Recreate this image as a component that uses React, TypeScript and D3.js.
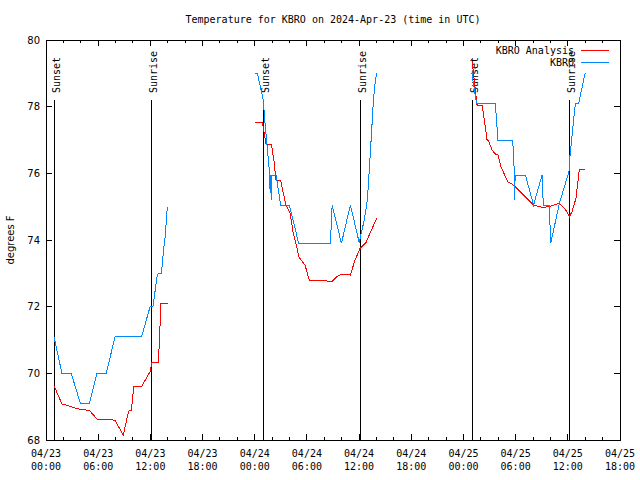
import React from "react";
import * as d3 from "d3";

const TITLE = "Temperature for KBRO on 2024-Apr-23 (time in UTC)";
const Y_LABEL = "degrees F";
const SERIES_NAMES = ["KBRO Analysis", "KBRO"];
const SERIES_COLORS = ["#ff0000", "#0088ff"];

const X_START = "2024-04-23 00:00";
const X_END = "2024-04-25 18:00";
const Y_DOMAIN = [68, 80];
const Y_TICKS = [68, 70, 72, 74, 76, 78, 80];

const SUN_TIMES = [
  "2024-04-23 00:57", "2024-04-23 12:06",
  "2024-04-24 00:58", "2024-04-24 12:05",
  "2024-04-25 00:58", "2024-04-25 12:05",
];
const SUN_LABELS = ["Sunset", "Sunrise", "Sunset", "Sunrise", "Sunset", "Sunrise"];

// Observations (KBRO)
const OBS_TIMES = [
  "2024-04-23 00:55", "2024-04-23 01:50", "2024-04-23 02:54", "2024-04-23 03:57",
  "2024-04-23 04:59", "2024-04-23 05:52", "2024-04-23 06:56", "2024-04-23 07:56",
  "2024-04-23 11:00", "2024-04-23 11:58", "2024-04-23 12:18", "2024-04-23 12:46",
  "2024-04-23 12:54", "2024-04-23 13:16", "2024-04-23 13:36", "2024-04-23 13:42",
  "2024-04-23 13:57",
  "2024-04-24 00:04", "2024-04-24 00:18", "2024-04-24 00:59", "2024-04-24 01:11",
  "2024-04-24 01:24", "2024-04-24 01:34", "2024-04-24 01:44", "2024-04-24 01:46",
  "2024-04-24 01:51", "2024-04-24 01:53", "2024-04-24 01:54", "2024-04-24 02:27",
  "2024-04-24 02:59", "2024-04-24 03:59", "2024-04-24 05:03", "2024-04-24 08:42",
  "2024-04-24 08:54", "2024-04-24 09:58", "2024-04-24 11:00", "2024-04-24 12:02",
  "2024-04-24 12:09", "2024-04-24 12:36", "2024-04-24 12:57", "2024-04-24 13:12",
  "2024-04-24 13:27", "2024-04-24 13:39", "2024-04-24 13:50", "2024-04-24 14:01",
  "2024-04-25 00:58", "2024-04-25 01:30", "2024-04-25 03:40", "2024-04-25 03:58",
  "2024-04-25 05:40", "2024-04-25 05:52", "2024-04-25 05:55", "2024-04-25 05:56",
  "2024-04-25 07:07", "2024-04-25 08:04", "2024-04-25 09:02", "2024-04-25 09:11",
  "2024-04-25 09:52", "2024-04-25 10:02", "2024-04-25 11:02", "2024-04-25 12:11",
  "2024-04-25 12:12", "2024-04-25 12:52", "2024-04-25 13:15", "2024-04-25 13:59",
];
const OBS_TEMPS = [
  71.1, 70.0, 70.0, 69.1,
  69.1, 70.0, 70.0, 71.1,
  71.1, 72.0, 72.0, 72.9,
  73.0, 73.0, 73.9, 74.1,
  75.0,
  79.0, 79.0, 78.2, 77.5,
  76.9, 76.4, 75.95, 75.4,
  75.95, 75.2, 75.95, 75.95,
  75.05, 75.05, 73.9, 73.9,
  75.05, 73.9, 75.05, 73.9,
  74.1, 74.6, 75.2, 76.2,
  77.3, 78.2, 78.7, 79.0,
  79.0, 78.1, 78.1, 77.0,
  77.0, 75.95, 75.2, 75.95,
  75.95, 75.05, 75.95, 75.05,
  75.05, 73.9, 75.1, 76.1,
  76.4, 78.1, 78.1, 79.0,
];

// Analysis (KBRO Analysis)
const ANA_TIMES = [
  "2024-04-23 00:55", "2024-04-23 01:50", "2024-04-23 02:41", "2024-04-23 03:27",
  "2024-04-23 03:57", "2024-04-23 04:59", "2024-04-23 05:52", "2024-04-23 06:56",
  "2024-04-23 07:56", "2024-04-23 08:53", "2024-04-23 09:30", "2024-04-23 09:49",
  "2024-04-23 10:02", "2024-04-23 10:05", "2024-04-23 11:00", "2024-04-23 11:58",
  "2024-04-23 12:11", "2024-04-23 12:53", "2024-04-23 13:00", "2024-04-23 13:09",
  "2024-04-23 13:13", "2024-04-23 13:59",
  "2024-04-24 00:04", "2024-04-24 00:54", "2024-04-24 01:04", "2024-04-24 01:18",
  "2024-04-24 01:55", "2024-04-24 02:12", "2024-04-24 02:27", "2024-04-24 02:59",
  "2024-04-24 03:12", "2024-04-24 03:36", "2024-04-24 04:04", "2024-04-24 04:26",
  "2024-04-24 04:50", "2024-04-24 05:03", "2024-04-24 05:47", "2024-04-24 06:17",
  "2024-04-24 08:21", "2024-04-24 08:53", "2024-04-24 09:25", "2024-04-24 10:02",
  "2024-04-24 11:00", "2024-04-24 11:32", "2024-04-24 12:06", "2024-04-24 12:48",
  "2024-04-24 13:15", "2024-04-24 14:01",
  "2024-04-25 00:58", "2024-04-25 01:34", "2024-04-25 02:08", "2024-04-25 02:26",
  "2024-04-25 02:42", "2024-04-25 02:55", "2024-04-25 03:17", "2024-04-25 03:40",
  "2024-04-25 03:58", "2024-04-25 04:19", "2024-04-25 04:44", "2024-04-25 05:05",
  "2024-04-25 05:35", "2024-04-25 05:58", "2024-04-25 07:07", "2024-04-25 08:04",
  "2024-04-25 09:02", "2024-04-25 09:52", "2024-04-25 11:02", "2024-04-25 11:43",
  "2024-04-25 12:11", "2024-04-25 12:29", "2024-04-25 12:56", "2024-04-25 13:15",
  "2024-04-25 13:19", "2024-04-25 14:00",
];
const ANA_TEMPS = [
  69.63, 69.08, 69.02, 68.95,
  68.92, 68.89, 68.63, 68.63,
  68.59, 68.15, 68.87, 68.89,
  69.45, 69.61, 69.61, 70.05,
  70.32, 70.33, 70.76, 71.65,
  72.1, 72.1,
  77.52, 77.52, 77.25, 76.88,
  76.88, 76.4, 75.8, 75.8,
  75.5, 75.05, 74.8, 74.2,
  73.8, 73.5, 73.25, 72.78,
  72.77, 72.75, 72.9, 72.98,
  72.95, 73.4, 73.74, 73.92,
  74.2, 74.65,
  79.42, 78.05, 78.05, 77.55,
  77.02, 76.95, 76.7, 76.58,
  76.55, 76.2, 75.95, 75.75,
  75.68, 75.6, 75.3, 75.05,
  74.98, 75.0, 75.1, 74.92,
  74.7, 74.85, 75.25, 75.95,
  76.12, 76.12,
];

const parse = d3.utcParse("%Y-%m-%d %H:%M");

type Pt = { t: Date; v: number };

function toSegments(times: string[], temps: number[]): Pt[][] {
  const pts = times.map((s, i) => ({ t: parse(s) as Date, v: temps[i] }));
  const segs: Pt[][] = [];
  let cur: Pt[] = [];
  pts.forEach((p, i) => {
    if (i > 0 && +p.t - +pts[i - 1].t > 5 * 3600 * 1000) {
      segs.push(cur);
      cur = [];
    }
    cur.push(p);
  });
  if (cur.length) segs.push(cur);
  return segs;
}

export default function App() {
  const W = 640, H = 480;
  const L = 46, R = 620, T = 40, B = 440;
  const x = d3.scaleUtc().domain([parse(X_START) as Date, parse(X_END) as Date]).range([L, R]);
  const y = d3.scaleLinear().domain(Y_DOMAIN).range([B, T]);
  const line = d3.line<Pt>().x((d) => x(d.t)).y((d) => y(d.v));

  const majors = x.ticks(d3.utcHour.every(6) as any);
  const minors = x.ticks(d3.utcHour.every(2) as any);
  const fmtDate = d3.utcFormat("%m/%d");
  const fmtTime = d3.utcFormat("%H:%M");

  const obsSegs = toSegments(OBS_TIMES, OBS_TEMPS);
  const anaSegs = toSegments(ANA_TIMES, ANA_TEMPS);

  const mono = "'DejaVu Sans Mono', monospace";
  const sans = "'DejaVu Sans', sans-serif";

  return (
    <svg width={W} height={H} style={{ position: "absolute", left: 0, top: 0, background: "#fff" }}>
      <rect x={0} y={0} width={W} height={H} fill="#fff" />
      <text x={(L + R) / 2} y={23} textAnchor="middle" fontFamily={mono} fontSize={10}>{TITLE}</text>

      {/* ticks */}
      <g stroke="#000" strokeWidth={1} shapeRendering="crispEdges">
        {minors.map((d, i) => (
          <g key={"mi" + i}>
            <line x1={x(d)} x2={x(d)} y1={B} y2={B - 3} />
            <line x1={x(d)} x2={x(d)} y1={T} y2={T + 3} />
          </g>
        ))}
        {majors.map((d, i) => (
          <g key={"ma" + i}>
            <line x1={x(d)} x2={x(d)} y1={B} y2={B - 6} />
            <line x1={x(d)} x2={x(d)} y1={T} y2={T + 6} />
          </g>
        ))}
        {Y_TICKS.map((v, i) => (
          <g key={"yt" + i}>
            <line x1={L} x2={L + 6} y1={y(v)} y2={y(v)} />
            <line x1={R} x2={R - 6} y1={y(v)} y2={y(v)} />
          </g>
        ))}
      </g>

      {/* x labels */}
      {majors.map((d, i) => (
        <g key={"xl" + i} fontFamily={mono} fontSize={10} textAnchor="middle">
          <text x={x(d)} y={457}>{fmtDate(d)}</text>
          <text x={x(d)} y={470}>{fmtTime(d)}</text>
        </g>
      ))}
      {/* y labels */}
      {Y_TICKS.map((v, i) => (
        <text key={"yl" + i} x={40} y={y(v) + 3.5} textAnchor="end" fontFamily={sans} fontSize={10}>{v}</text>
      ))}
      <text transform={`translate(13.5,${(T + B) / 2}) rotate(-90)`} textAnchor="middle" fontFamily={sans} fontSize={10}>{Y_LABEL}</text>

      {/* sunrise / sunset */}
      {SUN_TIMES.map((s, i) => {
        const xx = Math.round(x(parse(s) as Date)) + 0.5;
        return (
          <g key={"sun" + i}>
            <line x1={xx} x2={xx} y1={100} y2={B} stroke="#000" strokeWidth={1} shapeRendering="crispEdges" />
            <text transform={`translate(${xx + 5.5},93) rotate(-90)`} fontFamily={mono} fontSize={10}>{SUN_LABELS[i]}</text>
          </g>
        );
      })}

      {/* series */}
      {anaSegs.map((s, i) => (
        <path key={"a" + i} d={line(s) || ""} fill="none" stroke={SERIES_COLORS[0]} strokeWidth={1} shapeRendering="crispEdges" />
      ))}
      {obsSegs.map((s, i) => (
        <path key={"o" + i} d={line(s) || ""} fill="none" stroke={SERIES_COLORS[1]} strokeWidth={1} shapeRendering="crispEdges" />
      ))}

      {/* legend */}
      {SERIES_NAMES.map((n, i) => (
        <g key={"lg" + i}>
          <text x={574} y={53.5 + i * 12} textAnchor="end" fontFamily={mono} fontSize={10}>{n}</text>
          <line x1={581} x2={609} y1={50.5 + i * 12} y2={50.5 + i * 12} stroke={SERIES_COLORS[i]} strokeWidth={1} />
        </g>
      ))}

      {/* border */}
      <rect x={L + 0.5} y={T + 0.5} width={R - L} height={B - T} fill="none" stroke="#000" strokeWidth={1} shapeRendering="crispEdges" />
    </svg>
  );
}
